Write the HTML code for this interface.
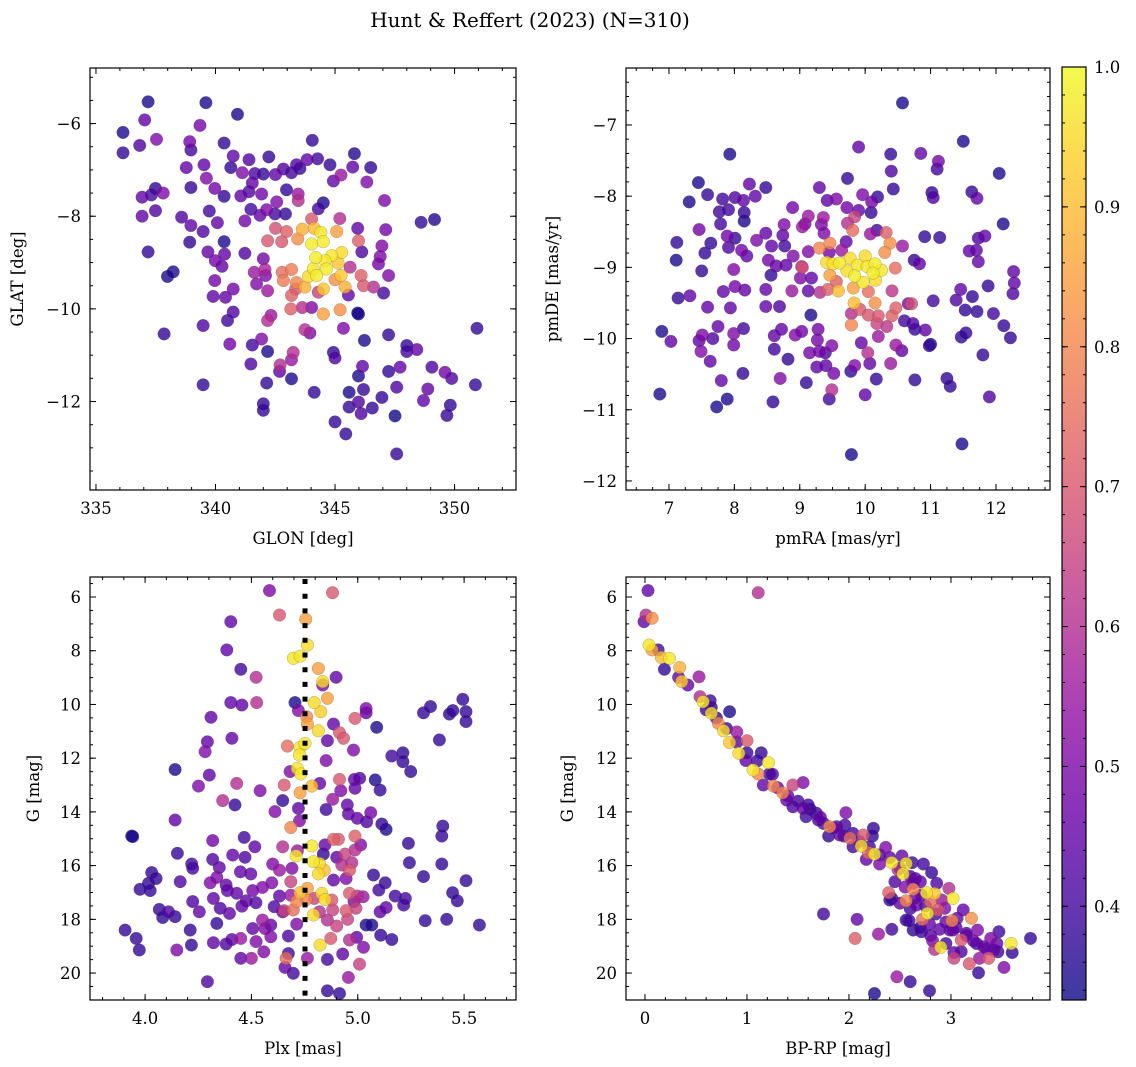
<!DOCTYPE html>
<html><head><meta charset="utf-8"><style>
html,body{margin:0;padding:0;background:#fff;}
svg{display:block;font-family:"DejaVu Serif","Liberation Serif",serif;}
</style></head><body>
<svg id="fig" width="1136" height="1067" viewBox="0 0 1136 1067">
<defs>
<linearGradient id="plasma" x1="0" y1="1" x2="0" y2="0">
<stop offset="0" stop-color="#0d0887"/><stop offset="0.1" stop-color="#41049d"/><stop offset="0.2" stop-color="#6a00a8"/><stop offset="0.3" stop-color="#8f0da4"/><stop offset="0.4" stop-color="#b12a90"/><stop offset="0.5" stop-color="#cc4778"/><stop offset="0.6" stop-color="#e16462"/><stop offset="0.7" stop-color="#f2844b"/><stop offset="0.8" stop-color="#fca636"/><stop offset="0.9" stop-color="#fcce25"/><stop offset="1" stop-color="#f0f921"/>
</linearGradient>
</defs>
<text x="530" y="27" text-anchor="middle" font-size="20" fill="#000">Hunt &amp; Reffert (2023) (N=310)</text>
</svg>
<script>
// ---- Panel 1 data: GLON / GLAT ----
const glon=[337.18,339.6,340.92,337.04,336.13,336.13,336.83,337.53,339.35,338.92,338.97,340.36,340.74,341.4,342.23,344.05,345.81,346.49,344.27,343.83,343.39,344.79,345.74,338.78,339.52,340.64,341.12,341.65,342.0,342.51,342.84,343.18,343.53,345.25,344.93,346.33,339.62,337.49,336.93,337.32,337.81,338.97,339.97,340.36,341.06,341.4,341.54,341.93,342.56,342.97,343.46,343.46,344.51,344.3,347.07,336.93,337.49,338.58,338.97,339.74,340.08,341.48,341.23,341.86,342.14,342.49,342.93,344.02,345.2,345.95,347.12,348.6,349.16,338.92,339.48,340.36,339.68,340.38,341.23,339.99,340.27,337.18,337.99,338.23,342.0,342.18,342.77,342.97,342.51,343.44,343.63,344.13,344.41,345.07,345.98,346.96,346.89,346.82,347.24,346.12,344.02,344.51,344.86,345.28,344.19,344.58,344.09,344.64,345.13,344.23,343.88,344.51,343.74,343.18,342.79,342.84,343.39,345.0,345.42,345.25,345.63,346.09,346.19,346.61,347.03,345.56,341.62,342.07,342.09,341.72,342.18,343.18,343.35,344.3,343.15,343.63,344.02,344.51,345.21,345.98,339.97,339.9,340.42,340.74,340.74,340.5,339.48,337.85,342.32,342.18,341.93,341.54,342.18,340.6,341.48,342.7,342.68,343.18,343.25,343.18,343.74,343.95,345.35,346.23,345.95,344.93,345.0,347.24,348.0,348.0,348.42,350.94,346.15,345.98,347.24,347.72,349.05,349.6,349.88,350.87,348.88,347.58,346.19,345.59,346.96,345.98,345.59,346.56,346.09,347.51,348.7,349.82,349.68,344.13,342.14,342.0,342.0,339.48,345.0,345.45,347.58];
const glat=[-5.53,-5.55,-5.8,-5.92,-6.19,-6.63,-6.47,-6.34,-6.04,-6.39,-6.57,-6.42,-6.7,-6.78,-6.72,-6.36,-6.65,-6.95,-6.76,-6.78,-6.89,-6.89,-6.94,-6.95,-6.89,-6.95,-7.06,-7.08,-7.09,-7.1,-6.98,-7.06,-6.97,-7.11,-7.24,-7.26,-7.18,-7.4,-7.59,-7.54,-7.5,-7.38,-7.4,-7.57,-7.56,-7.47,-7.28,-7.52,-7.69,-7.43,-7.52,-7.66,-7.71,-7.84,-7.66,-8.0,-7.88,-8.02,-8.2,-7.89,-8.14,-7.85,-8.1,-7.98,-7.86,-7.95,-7.95,-8.06,-8.05,-8.26,-8.29,-8.13,-8.07,-8.56,-8.33,-8.55,-8.77,-8.82,-8.8,-8.96,-9.08,-8.77,-9.3,-9.2,-8.92,-8.53,-8.55,-8.33,-8.26,-8.49,-8.28,-8.26,-8.35,-8.33,-8.53,-8.64,-8.87,-9.03,-9.28,-8.77,-8.6,-8.55,-8.85,-8.78,-8.89,-8.96,-9.13,-9.14,-9.01,-9.28,-9.3,-9.57,-9.53,-9.15,-9.21,-9.39,-9.43,-9.37,-9.53,-9.28,-9.1,-9.28,-9.5,-9.53,-9.66,-9.7,-9.21,-9.15,-9.28,-9.46,-9.61,-9.71,-9.57,-9.64,-10.0,-9.97,-9.97,-10.11,-10.02,-10.11,-9.39,-9.73,-9.75,-9.57,-10.07,-10.25,-10.36,-10.54,-10.14,-10.25,-10.65,-10.78,-10.92,-10.76,-11.19,-11.21,-11.35,-11.51,-10.94,-11.1,-10.45,-10.52,-10.42,-10.68,-10.09,-10.94,-11.06,-10.56,-10.79,-10.92,-10.88,-10.42,-11.24,-11.45,-11.35,-11.26,-11.26,-11.37,-11.5,-11.64,-11.73,-11.69,-11.74,-11.8,-11.91,-12.01,-12.12,-12.14,-12.26,-12.31,-11.98,-12.08,-12.3,-11.8,-11.6,-12.05,-12.19,-11.64,-12.44,-12.7,-13.13];
const prob1=[.35,.35,.35,.45,.35,.38,.42,.5,.48,.48,.4,.38,.45,.42,.38,.38,.36,.38,.4,.45,.42,.38,.45,.45,.45,.38,.5,.42,.38,.45,.42,.4,.38,.55,.45,.5,.5,.38,.45,.4,.5,.38,.48,.38,.45,.42,.45,.48,.5,.38,.55,.6,.35,.4,.5,.45,.42,.42,.45,.4,.45,.4,.48,.45,.5,.4,.38,.7,.6,.45,.48,.38,.36,.38,.42,.35,.45,.45,.42,.48,.45,.38,.35,.35,.48,.7,.7,.72,.68,.82,.88,.9,.97,.85,.72,.5,.5,.48,.5,.42,.98,.98,.97,.95,.98,.97,.97,.98,.92,.98,.95,.92,.88,.78,.75,.78,.8,.82,.88,.92,.6,.72,.7,.6,.4,.45,.55,.58,.5,.5,.55,.72,.7,.65,.72,.6,.5,.85,.82,.35,.48,.45,.45,.48,.42,.4,.42,.38,.55,.6,.5,.4,.35,.48,.42,.6,.45,.35,.6,.55,.6,.5,.5,.35,.35,.38,.42,.38,.38,.4,.45,.38,.45,.35,.38,.45,.42,.48,.42,.38,.45,.42,.38,.35,.38,.42,.38,.38,.42,.34,.45,.38,.38,.38,.38,.38,.38,.38,.38,.38,.38];

// ---- Panel 2 data: pmRA / pmDE ----
const pmra=[10.57,11.5,9.9,7.93,10.39,10.85,11.12,11.1,10.4,12.05,9.73,7.45,8.23,8.48,9.3,10.43,7.59,7.31,7.82,8.01,8.14,8.32,9.42,9.56,9.96,10.19,11.02,11.04,11.63,11.71,7.77,7.91,8.15,8.15,8.89,9.72,9.9,10.09,10.1,9.13,9.36,9.84,12.11,7.46,7.79,7.89,8.01,8.76,9.04,9.08,9.33,9.37,9.73,9.81,10.18,10.08,10.32,10.91,11.14,11.73,11.83,7.12,7.64,7.91,8.11,8.19,8.48,8.34,8.57,8.74,8.77,8.9,7.55,7.11,8.52,8.64,8.79,9.03,9.13,9.3,9.46,9.45,9.64,9.71,10.38,10.3,10.57,10.75,10.83,11.59,11.7,11.73,12.27,12.28,12.26,11.88,11.46,11.64,7.5,7.99,8.56,9.01,9.18,9.41,9.51,9.61,9.77,9.88,10.0,10.03,10.15,10.25,10.12,9.84,9.97,10.16,9.72,9.46,9.56,9.43,9.59,9.82,10.05,10.46,10.41,9.31,9.04,9.13,8.88,8.48,8.16,8.01,7.83,7.32,7.14,7.59,7.94,8.48,8.69,9.17,9.83,9.92,10.15,10.2,10.05,9.79,9.79,10.41,10.47,10.66,10.71,11.04,11.39,11.53,11.71,11.96,12.12,12.22,11.47,11.54,11.0,10.98,10.92,10.6,10.73,10.76,10.33,10.18,10.2,9.94,10.04,10.47,10.56,11.8,9.49,9.28,9.27,9.03,8.93,8.72,8.61,8.61,9.15,9.3,9.39,8.82,8.14,7.99,7.99,7.75,7.51,7.46,7.67,7.49,7.63,6.89,7.03,6.86,7.73,7.89,7.8,8.13,8.59,8.7,9.1,9.26,9.4,9.52,9.49,9.45,9.78,9.84,10.07,10.0,10.17,10.39,10.76,11.25,11.3,11.9,11.48,9.79];
const pmde=[-6.69,-7.23,-7.31,-7.41,-7.41,-7.4,-7.51,-7.62,-7.65,-7.68,-7.75,-7.81,-7.83,-7.88,-7.88,-7.9,-7.98,-8.08,-8.04,-8.02,-8.06,-8.0,-8.06,-8.04,-7.98,-8.01,-7.95,-8.02,-7.94,-8.03,-8.22,-8.19,-8.23,-8.35,-8.16,-8.16,-8.2,-8.23,-8.08,-8.28,-8.3,-8.29,-8.39,-8.47,-8.39,-8.56,-8.59,-8.4,-8.43,-8.39,-8.4,-8.52,-8.38,-8.48,-8.48,-8.53,-8.51,-8.57,-8.58,-8.59,-8.56,-8.65,-8.66,-8.72,-8.76,-8.84,-8.52,-8.62,-8.7,-8.55,-8.7,-8.84,-8.8,-8.9,-8.9,-8.98,-8.97,-8.99,-8.78,-8.73,-8.66,-8.79,-8.76,-8.64,-8.66,-8.79,-8.7,-8.9,-8.95,-8.77,-8.76,-8.92,-9.06,-9.22,-9.37,-9.26,-9.31,-9.41,-9.05,-9.03,-9.11,-9.15,-9.15,-8.93,-8.95,-8.94,-8.87,-8.97,-8.84,-8.99,-8.95,-9.04,-9.08,-9.12,-9.21,-9.18,-9.05,-9.11,-9.2,-9.31,-9.33,-9.29,-9.34,-9.01,-9.33,-9.35,-9.0,-9.33,-9.33,-9.31,-9.32,-9.27,-9.34,-9.4,-9.43,-9.56,-9.57,-9.55,-9.55,-9.67,-9.5,-9.59,-9.5,-9.68,-9.67,-9.65,-9.81,-9.68,-9.57,-9.51,-9.51,-9.47,-9.46,-9.6,-9.62,-9.65,-9.82,-9.99,-9.98,-9.92,-10.08,-10.1,-9.88,-9.75,-9.79,-9.87,-9.83,-9.79,-9.97,-10.06,-10.2,-10.09,-10.17,-10.23,-10.1,-9.87,-10.02,-9.9,-9.95,-9.87,-9.96,-10.15,-10.2,-10.18,-10.2,-10.29,-9.86,-9.93,-10.09,-9.83,-9.95,-10.03,-10.0,-10.18,-10.32,-9.9,-10.04,-10.78,-10.96,-10.85,-10.59,-10.49,-10.89,-10.56,-10.62,-10.4,-10.38,-10.49,-10.72,-10.85,-10.46,-10.38,-10.35,-10.79,-10.57,-10.35,-10.58,-10.56,-10.67,-10.82,-11.48,-11.63];
const prob2=[.35,.35,.45,.35,.38,.45,.48,.4,.42,.35,.38,.35,.45,.38,.45,.38,.38,.35,.4,.42,.45,.45,.45,.5,.5,.38,.38,.42,.38,.45,.4,.4,.38,.35,.48,.48,.45,.38,.48,.55,.55,.65,.35,.48,.4,.48,.38,.5,.55,.5,.5,.5,.6,.75,.4,.55,.72,.38,.38,.42,.45,.38,.38,.42,.48,.45,.45,.5,.45,.45,.4,.5,.38,.35,.48,.45,.45,.6,.5,.8,.8,.48,.55,.45,.82,.82,.55,.38,.45,.45,.45,.45,.45,.45,.42,.38,.45,.38,.38,.5,.38,.5,.45,.95,.96,.97,.95,.97,.95,.97,.98,.97,.98,.98,.97,.95,.96,.85,.72,.72,.9,.85,.75,.75,.62,.6,.68,.45,.55,.45,.45,.48,.45,.45,.38,.45,.45,.45,.42,.35,.9,.7,.82,.7,.7,.6,.8,.72,.72,.5,.68,.4,.42,.38,.38,.4,.38,.38,.38,.38,.35,.38,.45,.4,.42,.38,.62,.65,.55,.45,.6,.55,.45,.38,.5,.48,.48,.48,.5,.45,.45,.4,.48,.48,.42,.38,.4,.5,.48,.45,.5,.45,.42,.5,.45,.35,.45,.35,.35,.35,.45,.38,.38,.5,.38,.45,.45,.48,.6,.4,.38,.5,.45,.45,.38,.55,.38,.38,.38,.42,.35,.35];

// ---- Panel 3 data: Plx / G ----
const plx=[4.585,4.881,4.632,4.755,4.403,4.763,4.697,4.729,4.384,4.45,4.522,4.815,4.835,4.898,4.835,4.857,4.795,4.826,4.403,4.455,4.525,4.705,4.76,4.763,4.815,4.721,4.987,5.039,5.039,5.089,4.886,4.914,4.933,4.857,4.31,4.293,4.282,4.408,4.669,4.729,4.752,4.726,4.98,4.851,4.716,4.682,4.732,5.16,5.212,5.212,5.249,5.384,5.309,5.342,5.431,5.447,5.494,5.509,5.509,4.141,4.302,4.251,4.431,4.541,4.654,4.784,4.729,4.821,4.914,4.92,4.882,4.851,4.984,5.009,4.987,5.082,5.105,4.365,4.423,4.647,4.611,4.721,4.951,4.956,4.998,5.061,5.042,5.113,5.133,4.685,4.726,4.141,3.937,3.942,4.318,4.466,4.516,4.647,4.716,4.71,4.784,4.792,4.82,4.815,4.842,4.886,4.909,4.987,5.014,4.987,4.94,4.925,4.972,4.961,4.846,4.901,4.838,4.152,4.318,4.349,4.219,4.224,4.412,4.47,4.448,4.497,4.6,4.632,4.596,4.691,4.685,4.031,4.052,4.016,3.976,4.024,4.165,4.306,4.381,4.387,4.431,4.337,4.552,4.506,4.521,4.476,4.632,4.685,4.729,4.763,4.757,4.713,4.697,4.654,4.792,4.795,4.831,4.846,4.878,4.882,4.82,4.857,4.886,4.945,4.961,4.998,5.025,4.983,4.945,4.991,4.952,4.901,4.873,4.823,4.961,4.995,5.039,5.066,5.027,5.074,5.129,5.099,5.176,5.224,5.216,5.105,5.133,5.108,5.16,5.317,5.418,5.446,5.468,5.509,5.309,5.243,5.238,5.395,5.395,5.4,5.572,3.906,3.958,3.973,4.067,4.083,4.141,4.11,4.212,4.224,4.255,4.149,4.218,4.293,4.321,4.337,4.353,4.397,4.321,4.381,4.408,4.45,4.455,4.506,4.552,4.564,4.591,4.607,4.647,4.591,4.522,4.558,4.45,4.5,4.674,4.674,4.663,4.658,4.697,4.763,4.857,4.929,5.008,4.956,4.857,4.914,4.713];
const gmag3=[5.76,5.84,6.67,6.83,6.92,7.79,8.28,8.2,7.97,8.69,8.99,8.66,9.15,8.99,9.28,9.77,9.93,10.27,9.93,10.02,9.93,9.93,10.46,10.73,10.98,10.23,10.52,10.31,10.15,10.85,10.73,11.05,11.26,11.35,10.48,11.39,11.76,11.26,11.55,11.6,11.45,11.88,11.7,12.09,12.38,12.5,12.59,11.92,11.8,12.13,12.5,11.32,10.31,10.08,10.36,10.23,9.81,10.27,10.64,12.42,12.63,13.04,12.94,13.21,13.0,13.04,13.29,12.94,12.79,13.21,13.53,13.91,12.79,12.75,13.12,12.81,13.19,13.58,13.74,13.58,13.99,13.87,13.74,14.08,14.24,14.03,14.37,14.45,14.65,14.58,14.33,14.3,14.9,14.92,15.07,14.95,15.3,15.3,15.45,15.64,15.27,15.85,15.92,16.31,16.17,15.02,15.02,14.9,15.23,15.42,15.57,15.98,15.89,16.17,15.23,15.69,15.57,15.54,15.77,16.07,15.94,16.1,15.61,15.69,16.23,16.31,15.94,16.17,16.64,16.1,16.6,16.26,16.48,16.66,16.88,16.93,16.6,16.64,16.72,16.93,17.03,16.44,16.81,16.93,17.38,17.31,17.13,17.1,17.01,16.85,17.26,17.34,17.65,17.68,17.84,17.22,17.03,17.26,17.28,17.65,17.72,18.03,16.54,16.48,17.03,17.13,17.16,17.34,17.68,17.59,18.0,18.25,18.71,18.96,18.77,18.67,18.21,18.21,19.04,16.35,16.64,16.91,17.13,17.22,17.47,17.72,17.56,18.59,18.75,18.05,18.0,17.01,17.31,16.56,16.41,15.89,15.17,15.94,14.9,14.53,18.21,18.4,18.71,19.14,17.63,17.93,17.9,17.72,18.4,17.34,17.72,19.14,18.96,20.32,17.22,18.15,17.59,17.78,18.87,18.92,18.75,18.71,17.51,18.34,18.03,18.34,18.21,17.53,17.72,18.65,18.83,19.21,19.45,19.45,18.62,19.27,19.45,19.79,20.01,19.45,19.49,19.29,19.67,20.16,20.66,20.76,18.18];
const prob3=[.5,.7,.7,.85,.45,.95,.97,.97,.45,.4,.6,.85,.95,.45,.5,.85,.95,.93,.45,.45,.6,.35,.8,.85,.95,.5,.7,.45,.5,.35,.45,.7,.7,.45,.45,.45,.5,.45,.75,.97,.97,.97,.5,.5,.97,.5,.97,.4,.38,.38,.38,.38,.38,.38,.38,.38,.38,.38,.38,.35,.45,.5,.6,.5,.7,.9,.85,.45,.7,.5,.55,.4,.45,.42,.45,.35,.38,.6,.38,.38,.5,.45,.45,.45,.45,.48,.42,.38,.35,.8,.5,.45,.35,.35,.48,.4,.45,.6,.55,.97,.97,.97,.95,.95,.9,.72,.7,.72,.5,.6,.65,.6,.6,.7,.45,.45,.38,.38,.42,.45,.4,.4,.45,.42,.45,.45,.5,.55,.5,.5,.65,.38,.38,.38,.38,.38,.42,.5,.45,.45,.45,.5,.5,.48,.42,.45,.45,.55,.9,.85,.8,.8,.75,.65,.95,.65,.95,.95,.7,.65,.6,.6,.45,.5,.7,.6,.55,.5,.7,.65,.65,.65,.7,.95,.6,.45,.35,.35,.5,.38,.38,.4,.4,.4,.4,.45,.45,.38,.38,.38,.38,.38,.38,.38,.38,.38,.38,.38,.38,.38,.38,.38,.38,.38,.38,.38,.38,.42,.38,.42,.45,.5,.38,.42,.45,.38,.42,.45,.45,.42,.45,.55,.45,.45,.55,.5,.45,.42,.45,.5,.5,.5,.45,.55,.42,.4,.75,.45,.4,.55,.4,.45,.65,.55,.38,.38,.5];
const plxRef=[4.752];

// ---- Panel 4 data: BP-RP / G ----
const bprp=[0.03,1.11,-0.01,0.01,0.07,0.04,0.13,0.07,0.16,0.24,0.34,0.19,0.53,0.33,0.36,0.42,0.54,0.57,0.64,0.65,0.83,0.65,0.72,0.77,0.9,1.0,0.83,0.92,0.99,1.14,1.21,1.06,1.11,1.22,1.16,1.26,1.35,1.45,1.55,1.39,1.45,1.55,1.6,1.68,1.72,1.81,1.8,1.97,1.96,1.91,2.01,2.04,2.14,2.24,2.23,2.12,2.19,2.17,2.25,2.36,2.3,2.42,2.52,2.56,2.62,2.53,2.48,2.73,2.81,2.65,2.39,2.42,2.56,2.63,2.71,2.76,2.84,2.8,2.91,2.98,3.02,2.66,2.77,2.87,2.72,2.59,2.79,3.01,3.2,3.12,3.06,2.94,3.26,2.89,2.71,2.82,2.9,2.84,3.03,3.03,3.18,3.1,3.22,3.32,3.28,3.37,3.39,3.47,3.46,3.59,3.6,3.52,3.78,3.27,1.75,2.08,2.06,2.29,2.42,2.4,2.47,2.6,2.79,2.25,2.56,2.63,3.02,1.58,1.75,1.88,2.04,2.63,2.86,2.99,3.15,3.42,0.6,0.7,0.8,0.9,1.0,1.1,1.25,1.3,1.4,1.5,1.62,1.7,1.85,1.95,2.1,2.2,2.3,2.4,2.5,2.6,2.7,2.55,2.65,2.75,2.85,2.95,2.7,2.8,3.05,3.15,3.25,3.35,2.95,3.1,2.6,2.5,2.45,3.45];
const gmag4=[5.76,5.84,6.92,6.67,6.79,7.79,7.97,7.97,8.25,8.28,8.62,8.69,8.97,8.99,9.15,9.28,9.71,9.9,9.86,10.11,10.27,10.33,10.7,10.98,11.02,11.35,11.42,11.82,12.09,11.8,12.17,12.44,12.59,12.59,13.0,13.04,13.29,13.0,12.91,13.56,13.81,13.87,13.74,14.05,14.2,14.55,14.9,14.03,14.49,14.86,14.98,15.3,14.86,14.61,14.9,15.27,15.52,15.77,15.57,15.32,15.94,15.89,15.64,15.92,15.89,16.31,16.14,15.94,16.26,16.48,17.01,17.22,17.31,16.88,17.09,17.01,17.04,17.34,17.28,16.85,17.22,17.47,17.78,17.65,18.0,18.05,18.18,18.05,17.96,17.65,17.96,17.59,18.4,18.37,18.46,18.8,19.04,19.12,19.24,19.45,19.65,18.77,18.8,19.02,19.45,19.45,18.71,18.46,19.21,18.9,19.24,19.79,18.71,19.99,17.8,18.0,18.71,18.55,18.37,17.28,20.14,20.32,20.66,20.76,18.03,18.4,18.4,14.18,14.43,14.55,14.8,16.66,16.66,18.4,18.52,19.14,10.2,10.5,10.9,11.4,11.8,12.1,12.6,13.1,13.4,13.6,13.9,14.3,14.6,14.9,15.1,15.3,15.6,15.7,16.1,16.4,16.6,16.8,17.2,17.5,17.8,18.1,18.3,18.6,18.3,18.6,18.9,19.1,18.9,19.2,17.6,17.4,16.6,18.9];
const prob4=[.45,.6,.45,.6,.82,.97,.4,.85,.9,.97,.88,.38,.55,.45,.92,.45,.6,.97,.4,.38,.35,.95,.8,.95,.55,.7,.92,.95,.45,.38,.97,.97,.8,.4,.45,.8,.8,.65,.5,.45,.42,.45,.4,.4,.45,.8,.38,.5,.4,.45,.75,.4,.7,.38,.38,.95,.75,.45,.97,.5,.5,.97,.45,.97,.4,.97,.6,.4,.38,.45,.72,.38,.8,.8,.45,.97,.92,.75,.55,.6,.97,.45,.97,.7,.75,.4,.45,.8,.82,.45,.45,.5,.5,.45,.4,.5,.97,.6,.45,.65,.7,.7,.45,.45,.55,.7,.5,.4,.4,.97,.38,.5,.38,.38,.4,.45,.72,.55,.4,.38,.55,.38,.38,.35,.38,.38,.45,.4,.4,.45,.4,.45,.42,.45,.42,.45,.4,.38,.4,.42,.38,.4,.42,.45,.45,.4,.38,.42,.45,.4,.45,.4,.42,.45,.4,.42,.45,.5,.45,.42,.4,.45,.38,.42,.45,.45,.42,.45,.4,.42,.4,.45,.42,.45];

// ---- Tick arrays ----
const xt1=[335,340,345,350], yt1=[-6,-8,-10,-12];
const xt2=[7,8,9,10,11,12], yt2=[-7,-8,-9,-10,-11,-12];
const xt3=[4.0,4.5,5.0,5.5], yt3=[6,8,10,12,14,16,18,20];
const xt4=[0,1,2,3], yt4=[6,8,10,12,14,16,18,20];
const cbTicks=[0.4,0.5,0.6,0.7,0.8,0.9,1.0];
const cbRange=[0.333,1.0];

const NS='http://www.w3.org/2000/svg';
const svg=document.getElementById('fig');
const stops=[[13,8,135],[65,4,157],[106,0,168],[143,13,164],[177,42,144],[204,71,120],[225,100,98],[242,132,75],[252,166,54],[252,206,37],[240,249,33]];
function plasma(p){
  let t=(p-cbRange[0])/(cbRange[1]-cbRange[0]); t=Math.max(0,Math.min(1,t));
  const f=t*10, i=Math.min(9,Math.floor(f)), r=f-i;
  const a=stops[i], b=stops[i+1];
  return 'rgb('+[0,1,2].map(k=>Math.round(a[k]+(b[k]-a[k])*r)).join(',')+')';
}
function mk(tag,attrs,parent){const e=document.createElementNS(NS,tag);for(const k in attrs)e.setAttribute(k,attrs[k]);(parent||svg).appendChild(e);return e;}
function fmt(v,dec){const s=v.toFixed(dec);return s.replace('-','\u2212');}

function panel(c){
  const g=mk('g',{});
  
  
  const sx=v=>c.px[0]+(v-c.xd[0])/(c.xd[1]-c.xd[0])*(c.px[1]-c.px[0]);
  const sy=v=>c.py[0]+(v-c.yd[0])/(c.yd[1]-c.yd[0])*(c.py[1]-c.py[0]);
  const clip=mk('clipPath',{id:c.name+'-clip'},g);
  mk('rect',{x:c.px[0],y:c.py[0],width:c.px[1]-c.px[0],height:c.py[1]-c.py[0]},clip);
  const pts=mk('g',{'clip-path':'url(#'+c.name+'-clip)'},g);
  
  
  const idx=c.xs.map((_,i)=>i).sort((a,b)=>c.ps[a]-c.ps[b]);
  idx.forEach(i=>{
    const ci=mk('circle',{cx:sx(c.xs[i]).toFixed(1),cy:sy(c.ys[i]).toFixed(1),r:6.3,fill:plasma(c.ps[i]),'fill-opacity':0.8,stroke:'#444','stroke-width':0.35,'stroke-opacity':0.6},pts);
    
    
  });
  if(c.vline){
    const vl=mk('line',{x1:sx(c.vline),x2:sx(c.vline),y1:c.py[0]+2,y2:c.py[1],stroke:'#000','stroke-width':5,'stroke-dasharray':'5 9.7'},pts);
    
    
  }
  const fr=mk('rect',{x:c.px[0],y:c.py[0],width:c.px[1]-c.px[0],height:c.py[1]-c.py[0],fill:'none',stroke:'#000','stroke-width':1.2},g);
  
  
  const tk=mk('g',{stroke:'#000','stroke-width':1},g);
  
  
  const xlo=Math.min(c.xd[0],c.xd[1]), xhi=Math.max(c.xd[0],c.xd[1]);
  const ylo=Math.min(c.yd[0],c.yd[1]), yhi=Math.max(c.yd[0],c.yd[1]);
  for(let k=Math.ceil(xlo/c.xm-1e-9);k*c.xm<=xhi+1e-9;k++){const x=sx(k*c.xm);mk('line',{x1:x,x2:x,y1:c.py[1],y2:c.py[1]-3},tk);mk('line',{x1:x,x2:x,y1:c.py[0],y2:c.py[0]+3},tk);}
  for(let k=Math.ceil(ylo/c.ym-1e-9);k*c.ym<=yhi+1e-9;k++){const y=sy(k*c.ym);mk('line',{x1:c.px[0],x2:c.px[0]+3,y1:y,y2:y},tk);mk('line',{x1:c.px[1],x2:c.px[1]-3,y1:y,y2:y},tk);}
  c.xt.forEach(v=>{const x=sx(v);mk('line',{x1:x,x2:x,y1:c.py[1],y2:c.py[1]-6},tk);mk('line',{x1:x,x2:x,y1:c.py[0],y2:c.py[0]+6},tk);
    const t=mk('text',{x:x,y:c.py[1]+24,'text-anchor':'middle','font-size':16.5,stroke:'none',fill:'#000'},g);t.textContent=fmt(v,c.xdec);
    });
  c.yt.forEach(v=>{const y=sy(v);mk('line',{x1:c.px[0],x2:c.px[0]+6,y1:y,y2:y},tk);mk('line',{x1:c.px[1],x2:c.px[1]-6,y1:y,y2:y},tk);
    const t=mk('text',{x:c.px[0]-9,y:y+6,'text-anchor':'end','font-size':16.5,fill:'#000'},g);t.textContent=fmt(v,0);
    });
  const xl=mk('text',{x:(c.px[0]+c.px[1])/2,y:c.py[1]+54,'text-anchor':'middle','font-size':16.5,fill:'#000'},g);xl.textContent=c.xlabel;
  
  const cy=(c.py[0]+c.py[1])/2;
  const yl=mk('text',{x:c.ylx,y:cy,'text-anchor':'middle','font-size':16.5,fill:'#000',transform:'rotate(-90 '+c.ylx+' '+cy+')'},g);yl.textContent=c.ylabel;
  
}

panel({name:'glon-glat-panel',px:[90,516],py:[68,490],xd:[334.75,352.57],yd:[-4.8,-13.91],xt:xt1,yt:yt1,xm:1,ym:0.5,xdec:0,xs:glon,ys:glat,ps:prob1,xlabel:'GLON [deg]',ylabel:'GLAT [deg]',ylx:23});
panel({name:'pm-panel',px:[626,1050],py:[68,490],xd:[6.343,12.826],yd:[-6.2,-12.127],xt:xt2,yt:yt2,xm:0.25,ym:0.2,xdec:0,xs:pmra,ys:pmde,ps:prob2,xlabel:'pmRA [mas/yr]',ylabel:'pmDE [mas/yr]',ylx:558});
panel({name:'plx-g-panel',px:[90,516],py:[577,1000],xd:[3.741,5.744],yd:[5.255,21.003],xt:xt3,yt:yt3,xm:0.1,ym:0.5,xdec:1,xs:plx,ys:gmag3,ps:prob3,xlabel:'Plx [mas]',ylabel:'G [mag]',ylx:39,vline:plxRef[0]});
panel({name:'cmd-panel',px:[626,1050],py:[577,1000],xd:[-0.186,3.971],yd:[5.255,21.003],xt:xt4,yt:yt4,xm:0.2,ym:0.5,xdec:0,xs:bprp,ys:gmag4,ps:prob4,xlabel:'BP-RP [mag]',ylabel:'G [mag]',ylx:573});

(function(){
  const x0=1062,x1=1086,y0=67,y1=1000;
  const g=mk('g',{});
  
  
  mk('rect',{x:x0,y:y0,width:x1-x0,height:y1-y0,fill:'url(#plasma)','fill-opacity':0.8},g);
  mk('rect',{x:x0,y:y0,width:x1-x0,height:y1-y0,fill:'none',stroke:'#000','stroke-width':1.2},g);
  const sy=v=>y1-(v-cbRange[0])/(cbRange[1]-cbRange[0])*(y1-y0);
  for(let k=Math.ceil(cbRange[0]/0.02);k*0.02<=cbRange[1]+1e-9;k++){const y=sy(k*0.02);mk('line',{x1:x1,x2:x1-3,y1:y,y2:y,stroke:'#000','stroke-width':1},g);mk('line',{x1:x0,x2:x0+3,y1:y,y2:y,stroke:'#000','stroke-width':1},g);}
  cbTicks.forEach(v=>{const y=sy(v);mk('line',{x1:x1,x2:x1-6,y1:y,y2:y,stroke:'#000','stroke-width':1},g);mk('line',{x1:x0,x2:x0+6,y1:y,y2:y,stroke:'#000','stroke-width':1},g);
    const t=mk('text',{x:x1+8,y:y+6,'font-size':16.5,fill:'#000'},g);t.textContent=v.toFixed(1);
    });
})();
</script>
</body></html>
